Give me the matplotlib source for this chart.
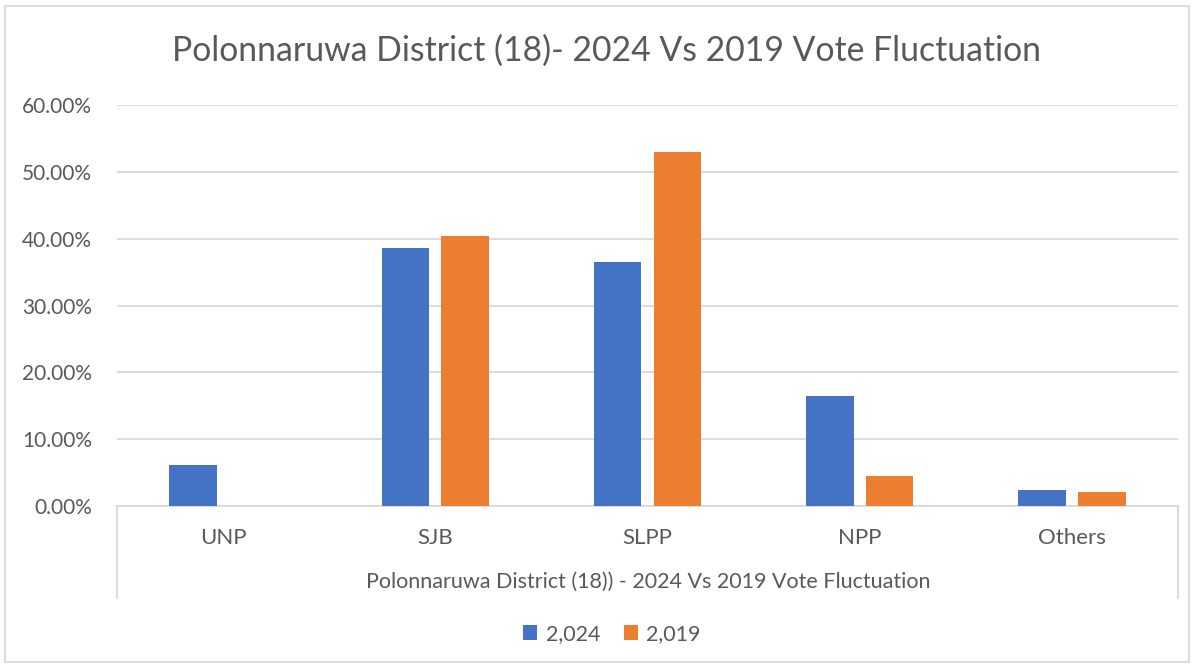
import matplotlib.pyplot as plt
import matplotlib.patches as patches
from matplotlib.lines import Line2D
from matplotlib.ticker import PercentFormatter
import numpy as np

plt.rcParams['font.family'] = ['Lato', 'DejaVu Sans']

# Data
parties = ['UNP', 'SJB', 'SLPP', 'NPP', 'Others']
share_2024 = [0.062, 0.386, 0.365, 0.164, 0.024]
share_2019 = [0.0, 0.404, 0.530, 0.045, 0.021]
series_labels = ['2,024', '2,019']

blue = '#4472C4'
orange = '#ED7D31'
text_gray = '#595959'
grid_gray = '#D9D9D9'

fig = plt.figure(figsize=(11.94, 6.68), dpi=100)
W, H = 1194, 668
ax = fig.add_axes([117 / W, 1 - 506 / H, (1178 - 117) / W, (506 - 105) / H])

x = np.arange(len(parties))
bw = 0.224
off = 0.141
b1 = ax.bar(x - off, share_2024, bw, color=blue, label=series_labels[0], zorder=3)
b2 = ax.bar(x + off, share_2019, bw, color=orange, label=series_labels[1], zorder=3)

ax.set_xlim(-0.5, len(parties) - 0.5)
ax.set_ylim(0, 0.6)
ax.set_yticks(np.arange(0, 0.61, 0.1))
ax.yaxis.set_major_formatter(PercentFormatter(1.0, decimals=2))
ax.grid(axis='y', color=grid_gray, lw=1.3, zorder=0)
ax.set_xticks(x)
ax.set_xticklabels(parties)
ax.tick_params(axis='both', length=0, colors=text_gray)
ax.tick_params(axis='x', pad=16, labelsize=16)
ax.tick_params(axis='y', pad=18, labelsize=15)
for s in ['top', 'right', 'left']:
    ax.spines[s].set_visible(False)
ax.spines['bottom'].set_color(grid_gray)
ax.spines['bottom'].set_linewidth(1.3)

# multi-level category box
for xp in [117, 1178]:
    fig.add_artist(Line2D([xp / W, xp / W], [1 - 506 / H, 1 - 598 / H],
                          color=grid_gray, lw=1.3))
fig.text(648 / W, 1 - 582 / H,
         'Polonnaruwa District (18)) - 2024 Vs 2019 Vote Fluctuation',
         ha='center', va='center', fontsize=15.5, color=text_gray)

# title
fig.text(606 / W, 1 - 51 / H,
         'Polonnaruwa District (18)- 2024 Vs 2019 Vote Fluctuation',
         ha='center', va='center', fontsize=24.3, color=text_gray)

# legend
fig.legend(handles=[b1, b2], labels=series_labels, loc='center',
           bbox_to_anchor=(612 / W, 1 - 634 / H), ncol=2, frameon=False,
           fontsize=15.5, labelcolor=text_gray, handlelength=0.65, handleheight=0.65,
           handletextpad=0.4, columnspacing=1.1)

# chart border
fig.add_artist(patches.Rectangle((5 / W, 1 - 662 / H), 1184 / W, 656 / H,
                                 transform=fig.transFigure, fill=False,
                                 edgecolor=grid_gray, lw=1.3))

fig.savefig('out.png', dpi=100)
